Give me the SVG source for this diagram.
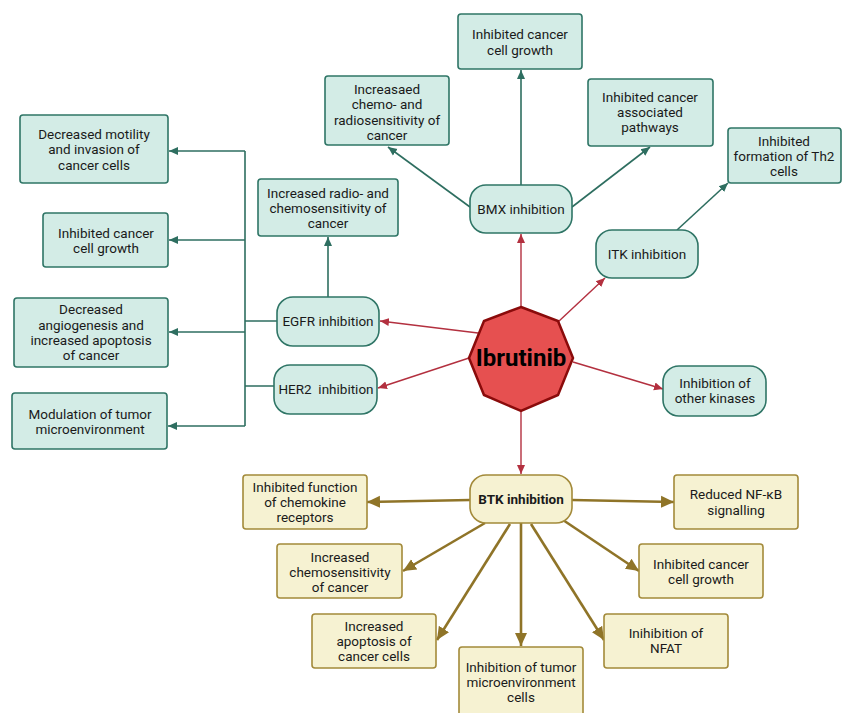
<svg xmlns="http://www.w3.org/2000/svg" width="843" height="713" viewBox="0 0 843 713">
<style>
text{font-family:Roboto,"Liberation Sans",sans-serif;font-size:13.5px;fill:#1a1a1a;text-anchor:middle;dominant-baseline:central}
.t{fill:#d3ece6;stroke:#2f7566;stroke-width:1.6}
.g{fill:#f6f2d2;stroke:#a38a3a;stroke-width:1.6}
.ct{stroke:#2e6e60;stroke-width:1.6;fill:none}
.cr{stroke:#b3303f;stroke-width:1.4;fill:none}
.cg{stroke:#8f7428;stroke-width:2.6;fill:none}
.b{font-weight:bold}
</style>
<defs>
<marker id="at" markerUnits="userSpaceOnUse" markerWidth="10" markerHeight="10" refX="9" refY="5" orient="auto"><path d="M0,1 L9,5 L0,9 Z" fill="#2e6e60"/></marker>
<marker id="ar" markerUnits="userSpaceOnUse" markerWidth="10" markerHeight="10" refX="9" refY="5" orient="auto"><path d="M0,1 L9,5 L0,9 Z" fill="#b3303f"/></marker>
<marker id="ag" markerUnits="userSpaceOnUse" markerWidth="14" markerHeight="14" refX="13" refY="7" orient="auto"><path d="M0,1 L13,7 L0,13 Z" fill="#8f7428"/></marker>
</defs>
<rect width="843" height="713" fill="#fff"/>
<g id="connectors">
<path class="ct" d="M277,321 H245 M275,386 H245 M245,151 V426"/>
<path class="ct" d="M245,151 H169" marker-end="url(#at)"/>
<path class="ct" d="M245,240 H169" marker-end="url(#at)"/>
<path class="ct" d="M245,332 H169" marker-end="url(#at)"/>
<path class="ct" d="M245,426 H168" marker-end="url(#at)"/>
<path class="ct" d="M328,297 V237" marker-end="url(#at)"/>
<path class="ct" d="M521,185 V70" marker-end="url(#at)"/>
<path class="ct" d="M470,207 L388,147" marker-end="url(#at)"/>
<path class="ct" d="M572,207 L650,147" marker-end="url(#at)"/>
<path class="ct" d="M677,230 L728,183" marker-end="url(#at)"/>
<path class="cr" d="M521,307 V234" marker-end="url(#ar)"/>
<path class="cr" d="M558,322 L605,278" marker-end="url(#ar)"/>
<path class="cr" d="M478,333 L380,321" marker-end="url(#ar)"/>
<path class="cr" d="M469,358 L378,388" marker-end="url(#ar)"/>
<path class="cr" d="M573,362 L663,389" marker-end="url(#ar)"/>
<path class="cr" d="M521,411 V474" marker-end="url(#ar)"/>
<path class="cg" d="M470,500 L367,502" marker-end="url(#ag)"/>
<path class="cg" d="M572,500 L674,502" marker-end="url(#ag)"/>
<path class="cg" d="M485,523 L403,571" marker-end="url(#ag)"/>
<path class="cg" d="M510,524 L437,640" marker-end="url(#ag)"/>
<path class="cg" d="M521,523 V646" marker-end="url(#ag)"/>
<path class="cg" d="M531,524 L604,640" marker-end="url(#ag)"/>
<path class="cg" d="M563,520 L639,571" marker-end="url(#ag)"/>
</g>
<g id="ibrutinib">
<polygon points="521,307 558,321 573,358 558,395 521,411 484,395 469,358 484,321" fill="#e65050" stroke="#8a0b0b" stroke-width="2.5"/>
<text x="521" y="358" class="b" style="font-size:24px;fill:#000">Ibrutinib</text>
</g>
<g id="egfr"><rect class="t" x="277" y="297" width="102" height="49" rx="16"/><text x="328" y="321">EGFR inhibition</text></g>
<g id="her2"><rect class="t" x="274" y="365" width="103" height="49" rx="16"/><text x="326" y="389" xml:space="preserve">HER2  inhibition</text></g>
<g id="bmx"><rect class="t" x="470" y="185" width="102" height="48" rx="16"/><text x="521" y="209">BMX inhibition</text></g>
<g id="itk"><rect class="t" x="596" y="230" width="102" height="48" rx="16"/><text x="647" y="254">ITK inhibition</text></g>
<g id="other"><rect class="t" x="663" y="366" width="103" height="50" rx="16"/><text x="715" y="383">Inhibition of</text><text x="715" y="398">other kinases</text></g>
<g id="btk"><rect class="g" x="470" y="475" width="102" height="48" rx="16"/><text x="521" y="499" class="b">BTK inhibition</text></g>
<g id="l1"><rect class="t" x="20" y="115" width="148" height="68" rx="3"/><text x="94" y="134">Decreased motility</text><text x="94" y="149">and invasion of</text><text x="94" y="165">cancer cells</text></g>
<g id="l2"><rect class="t" x="43" y="213" width="125" height="54" rx="3"/><text x="106" y="233">Inhibited cancer</text><text x="106" y="248">cell growth</text></g>
<g id="l3"><rect class="t" x="14" y="298" width="154" height="69" rx="3"/><text x="91" y="309">Decreased</text><text x="91" y="325">angiogenesis and</text><text x="91" y="340">increased apoptosis</text><text x="91" y="355">of cancer</text></g>
<g id="l4"><rect class="t" x="12" y="393" width="155" height="56" rx="3"/><text x="90" y="414">Modulation of tumor</text><text x="90" y="429">microenvironment</text></g>
<g id="radio"><rect class="t" x="258" y="179" width="140" height="57" rx="3"/><text x="328" y="193">Increased radio- and</text><text x="328" y="208">chemosensitivity of</text><text x="328" y="223">cancer</text></g>
<g id="increasaed"><rect class="t" x="325" y="76" width="124" height="69" rx="3"/><text x="387" y="89">Increasaed</text><text x="387" y="104">chemo- and</text><text x="387" y="120">radiosensitivity of</text><text x="387" y="135">cancer</text></g>
<g id="topgrowth"><rect class="t" x="458" y="14" width="124" height="55" rx="3"/><text x="520" y="34">Inhibited cancer</text><text x="520" y="50">cell growth</text></g>
<g id="pathways"><rect class="t" x="588" y="79" width="125" height="67" rx="3"/><text x="650" y="97">Inhibited cancer</text><text x="650" y="112">associated</text><text x="650" y="127">pathways</text></g>
<g id="th2"><rect class="t" x="728" y="128" width="113" height="55" rx="3"/><text x="784" y="141">Inhibited</text><text x="784" y="156">formation of Th2</text><text x="784" y="171">cells</text></g>
<g id="chemokine"><rect class="g" x="243" y="475" width="124" height="54" rx="3"/><text x="305" y="487">Inhibited function</text><text x="305" y="502">of chemokine</text><text x="305" y="517">receptors</text></g>
<g id="nfkb"><rect class="g" x="674" y="475" width="124" height="54" rx="3"/><text x="736" y="494">Reduced NF-κB</text><text x="736" y="510">signalling</text></g>
<g id="chemosens"><rect class="g" x="277" y="544" width="125" height="54" rx="3"/><text x="340" y="557">Increased</text><text x="340" y="572">chemosensitivity</text><text x="340" y="587">of cancer</text></g>
<g id="growthbr"><rect class="g" x="639" y="544" width="124" height="54" rx="3"/><text x="701" y="564">Inhibited cancer</text><text x="701" y="579">cell growth</text></g>
<g id="apoptosis"><rect class="g" x="312" y="614" width="124" height="54" rx="3"/><text x="374" y="626">Increased</text><text x="374" y="641">apoptosis of</text><text x="374" y="656">cancer cells</text></g>
<g id="nfat"><rect class="g" x="604" y="614" width="124" height="54" rx="3"/><text x="666" y="633">Inihibition of</text><text x="666" y="648">NFAT</text></g>
<g id="tumormicro"><rect class="g" x="459" y="647" width="124" height="72" rx="3"/><text x="521" y="667">Inhibition of tumor</text><text x="521" y="682">microenvironment</text><text x="521" y="697">cells</text></g>
</svg>
